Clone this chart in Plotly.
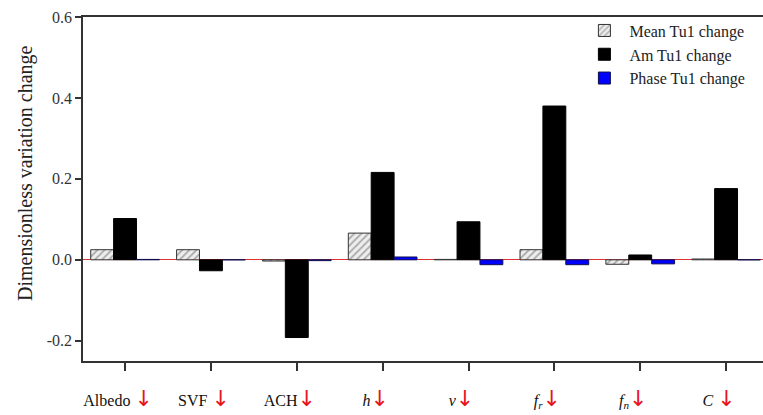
import plotly.graph_objects as go

categories = ["Albedo", "SVF", "ACH", "h", "v", "fr", "fn", "C"]
arrow = "<span style=\"color:#e8141c;font-size:22px;font-family:'DejaVu Sans'\">↓</span>"
tick_labels = [
    "Albedo " + arrow,
    "SVF " + arrow,
    "ACH" + arrow,
    "<i>h</i>" + arrow,
    "<i>v</i>" + arrow,
    "<i>f<sub>r</sub></i>" + arrow,
    "<i>f<sub>n</sub></i>" + arrow,
    "<i>C</i> " + arrow,
]
mean_change = [0.025, 0.025, -0.003, 0.066, 0.001, 0.025, -0.011, 0.002]
am_change = [0.102, -0.027, -0.192, 0.216, 0.094, 0.380, 0.012, 0.176]
phase_change = [0.001, 0.0, -0.002, 0.007, -0.012, -0.012, -0.010, 0.0]
y_ticks = [-0.2, 0.0, 0.2, 0.4, 0.6]
y_tick_labels = ["-0.2", "0.0", "0.2", "0.4", "0.6"]
y_title = "Dimensionless variation change"

font_family = "Liberation Serif"

fig = go.Figure()
fig.add_trace(go.Bar(
    x=categories, y=mean_change, name="Mean Tu1 change", legendgroup="a",
    marker=dict(color="#ececec", line=dict(color="#333333", width=1),
                pattern=dict(shape="/", fgcolor="#666666", bgcolor="#eeeeee",
                             size=5, solidity=0.35)),
))
fig.add_trace(go.Bar(
    x=categories, y=am_change, name="Am Tu1 change", legendgroup="b",
    marker=dict(color="black", line=dict(color="black", width=1)),
))
fig.add_trace(go.Bar(
    x=categories, y=phase_change, name="Phase Tu1 change", legendgroup="c",
    marker=dict(color="#0000ff", line=dict(color="#101050", width=1)),
))

fig.add_annotation(
    text=y_title, textangle=-90, xref="paper", yref="paper",
    x=-0.0853, y=0.5465, xanchor="center", yanchor="middle", showarrow=False,
    font=dict(family=font_family, size=20, color="#222222"),
)

fig.update_layout(
    width=763, height=415,
    margin=dict(l=83, r=0, t=17, b=54, autoexpand=False),
    paper_bgcolor="white", plot_bgcolor="white",
    barmode="group", bargap=0.2, bargroupgap=0,
    font=dict(family=font_family, color="#222222", size=14),
    showlegend=True,
    legend=dict(x=0.73, xanchor="left", y=1.01, yanchor="top",
                font=dict(family=font_family, size=16, color="#222222"),
                bgcolor="rgba(0,0,0,0)", tracegroupgap=0, itemwidth=40),
    xaxis=dict(
        type="category", range=[-0.49, 7.43], automargin=False,
        tickmode="array", tickvals=categories, ticktext=tick_labels,
        ticks="outside", ticklen=8, tickcolor="#333333", tickwidth=1.5,
        showline=True, linecolor="#333333", linewidth=1.5, mirror=True,
        showgrid=False, ticklabelstandoff=16, ticklabelshift=-7,
        tickfont=dict(family=font_family, size=16, color="#111111"),
    ),
    yaxis=dict(
        range=[-0.25, 0.6], tickmode="array", tickvals=y_ticks, ticktext=y_tick_labels,
        automargin=False,
        ticks="outside", ticklen=6, tickcolor="#333333", tickwidth=1.5,
        showline=True, linecolor="#333333", linewidth=1.5,
        showgrid=False, zeroline=True, zerolinecolor="#e03030", zerolinewidth=1,
        tickfont=dict(family=font_family, size=16, color="#333333"),
    ),
)

fig.write_html("out.html", config={"displayModeBar": False},
               post_script="document.body.style.margin='0';")
